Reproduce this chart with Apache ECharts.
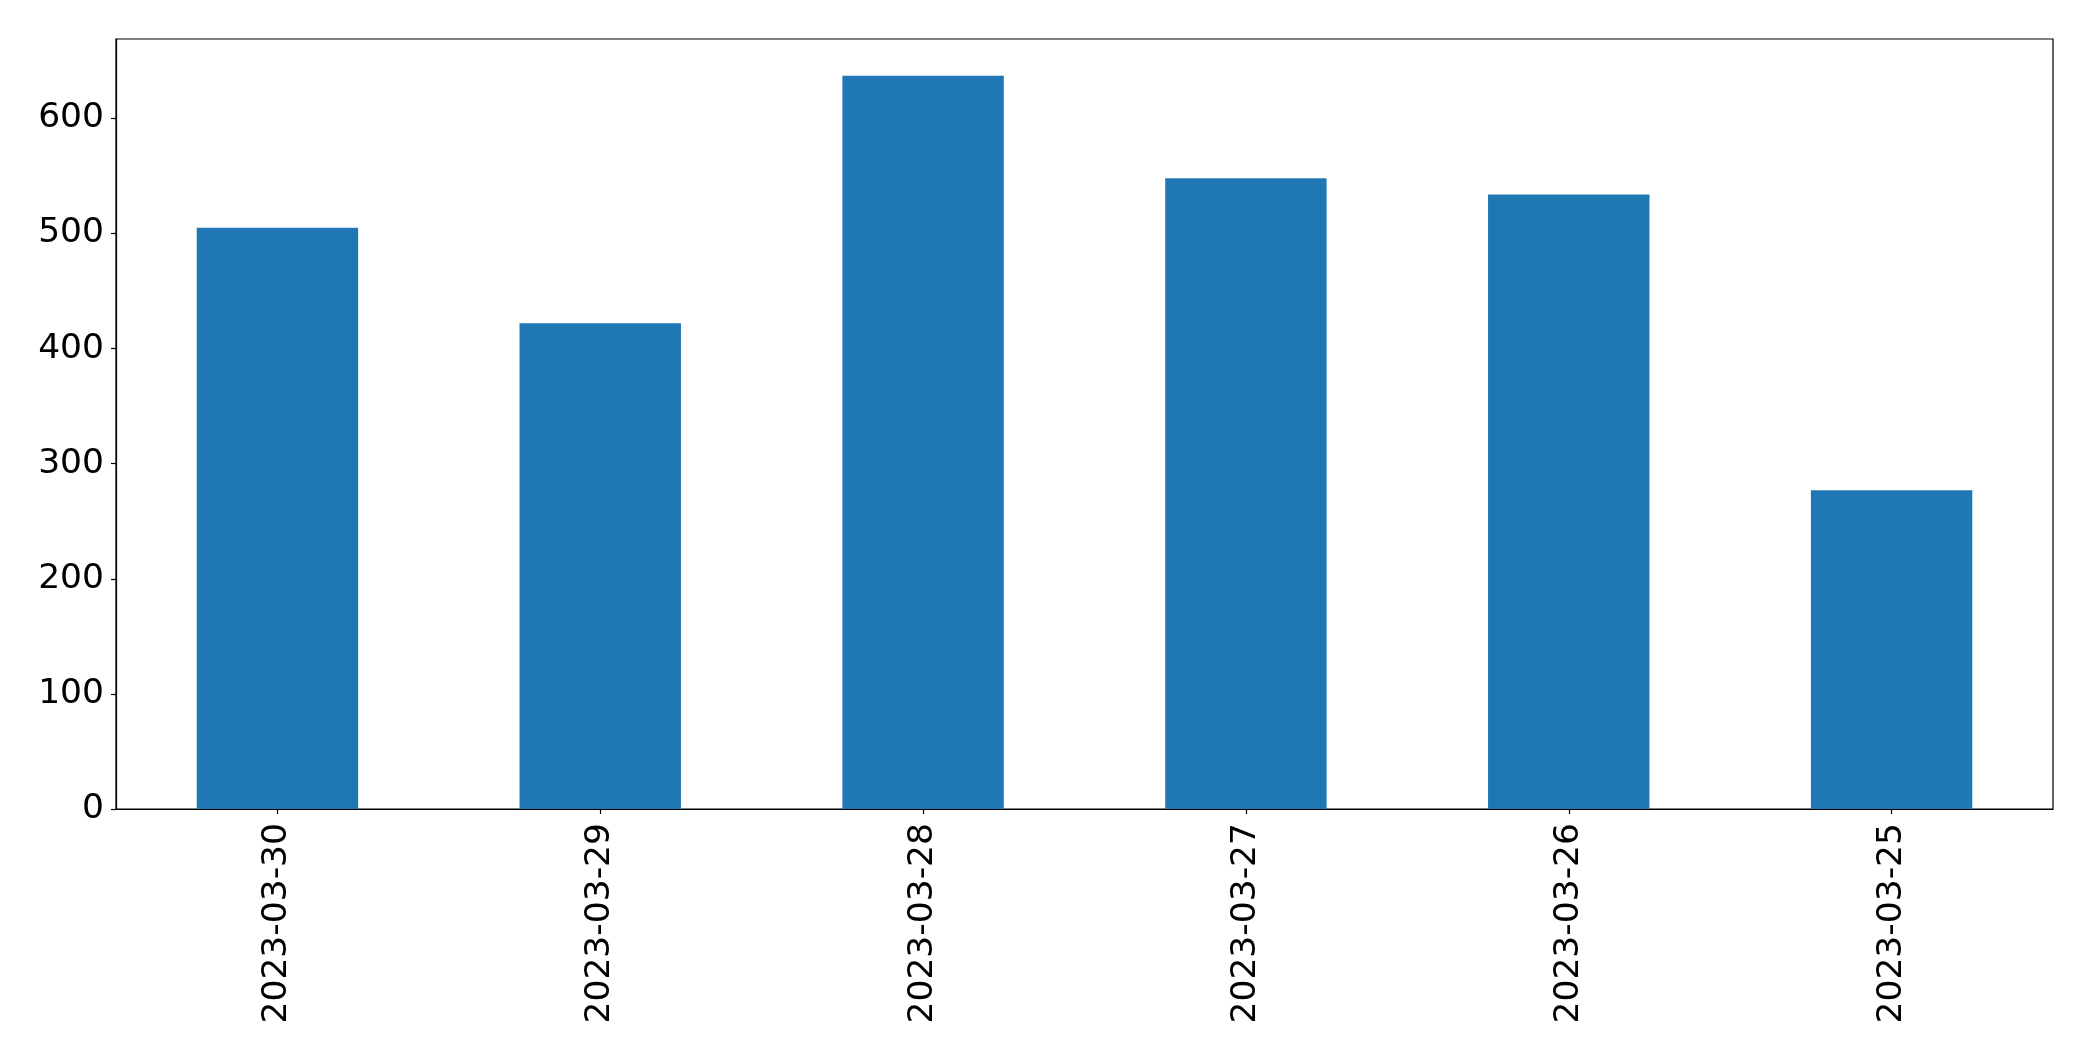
<!DOCTYPE html>
<html>
<head>
<meta charset="utf-8">
<script src="https://cdn.jsdelivr.net/npm/echarts@6/dist/echarts.min.js"></script>
<style>
html,body{margin:0;padding:0;background:#fff;}
#chart{width:2093px;height:1061px;}
</style>
</head>
<body>
<div id="chart"></div>
<script>
const categories = ['2023-03-30','2023-03-29','2023-03-28','2023-03-27','2023-03-26','2023-03-25'];
const values = [505, 422, 637, 548, 534, 277];
const yTicks = [0, 100, 200, 300, 400, 500, 600];

const chart = echarts.init(document.getElementById('chart'));
const font = 'DejaVu Sans';
chart.setOption({
  animation: false,
  backgroundColor: '#ffffff',
  grid: {
    left: 116, right: 40, top: 39, bottom: 252,
    show: true, borderColor: '#000', borderWidth: 1.2, containLabel: false
  },
  xAxis: {
    type: 'category',
    data: categories,
    boundaryGap: true,
    axisLine: {show: true, lineStyle: {color: '#000', width: 1.2}},
    axisTick: {show: true, alignWithLabel: true, length: 5, lineStyle: {color: '#000', width: 1.2}},
    axisLabel: {rotate: 90, margin: 14, fontSize: 34.5, fontFamily: font, color: '#000'},
    splitLine: {show: false}
  },
  yAxis: {
    type: 'value',
    min: 0,
    max: 669,
    interval: 100,
    axisLine: {show: true, lineStyle: {color: '#000', width: 1.2}},
    axisTick: {show: true, length: 5, customValues: yTicks, lineStyle: {color: '#000', width: 1.2}},
    axisLabel: {
      margin: 12, fontSize: 34.5, fontFamily: font, color: '#000',
      customValues: yTicks
    },
    splitLine: {show: false}
  },
  series: [{
    type: 'bar',
    data: values,
    barWidth: '50%',
    itemStyle: {color: '#1f77b4'}
  }]
});
</script>
</body>
</html>
